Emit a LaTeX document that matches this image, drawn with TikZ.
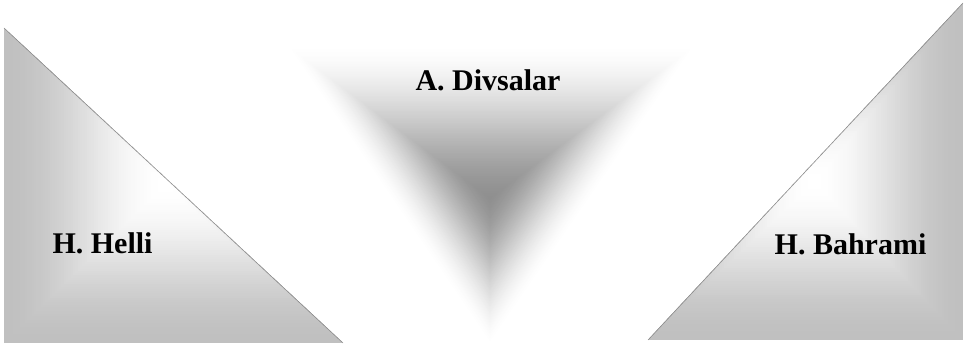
\documentclass[tikz,border=0pt]{standalone}
\usepackage{fontspec}
\setmainfont{Liberation Serif}
\begin{document}
\begin{tikzpicture}[x=1pt,y=-1pt,
  lab/.style={font=\bfseries\fontsize{30}{34}\selectfont, inner sep=0pt, anchor=base, text=black},
  hyp/.style={draw=black!45, line width=0.6pt}]
\useasboundingbox (0,0) rectangle (965,345);
% ---- middle inverted triangle: dark centre fading to white edges
\foreach \i in {0,...,89}{
  \pgfmathsetmacro\t{\i/90}
  \pgfmathsetmacro\s{1-\t}
  \pgfmathsetmacro\b{100-44*(0.35*\t+0.65*\t*\t*(3-2*\t))}
  \fill[white!\b!black]
    ({490+\s*(290-490)},{198+\s*(48-198)}) --
    ({490+\s*(692-490)},{198+\s*(48-198)}) --
    ({490+\s*(490-490)},{198+\s*(342-198)}) -- cycle;
}
% ---- left triangle
\begin{scope}
  \clip (4,28) -- (4,343) -- (343,343) -- cycle;
  \foreach \i in {0,...,69}{
    \pgfmathsetmacro\t{\i/70}
    \pgfmathsetmacro\s{1-\t}
    \pgfmathsetmacro\b{75.3+24.7*\t*\t*(3-2*\t)}
    \fill[white!\b!black]
      ({165+\s*(4-165)},{185+\s*(28-185)}) rectangle
      ({165+\s*(343-165)},{185+\s*(343-185)});
  }
\end{scope}
\draw[hyp] (4,28) -- (343,343);
% ---- right triangle
\begin{scope}
  \clip (963,3) -- (963,340) -- (648,340) -- cycle;
  \foreach \i in {0,...,69}{
    \pgfmathsetmacro\t{\i/70}
    \pgfmathsetmacro\s{1-\t}
    \pgfmathsetmacro\b{75.3+24.7*\t*\t*(3-2*\t)}
    \fill[white!\b!black]
      ({815+\s*(648-815)},{182+\s*(3-182)}) rectangle
      ({815+\s*(963-815)},{182+\s*(340-182)});
  }
\end{scope}
\draw[hyp] (963,3) -- (648,340);
% ---- labels
\node[lab] (div) at (488,90.5) {A. Divsalar};
\node[lab] (hel) at (102.5,253) {H. Helli};
\node[lab] (bah) at (850.5,254) {H. Bahrami};
\end{tikzpicture}
\end{document}
